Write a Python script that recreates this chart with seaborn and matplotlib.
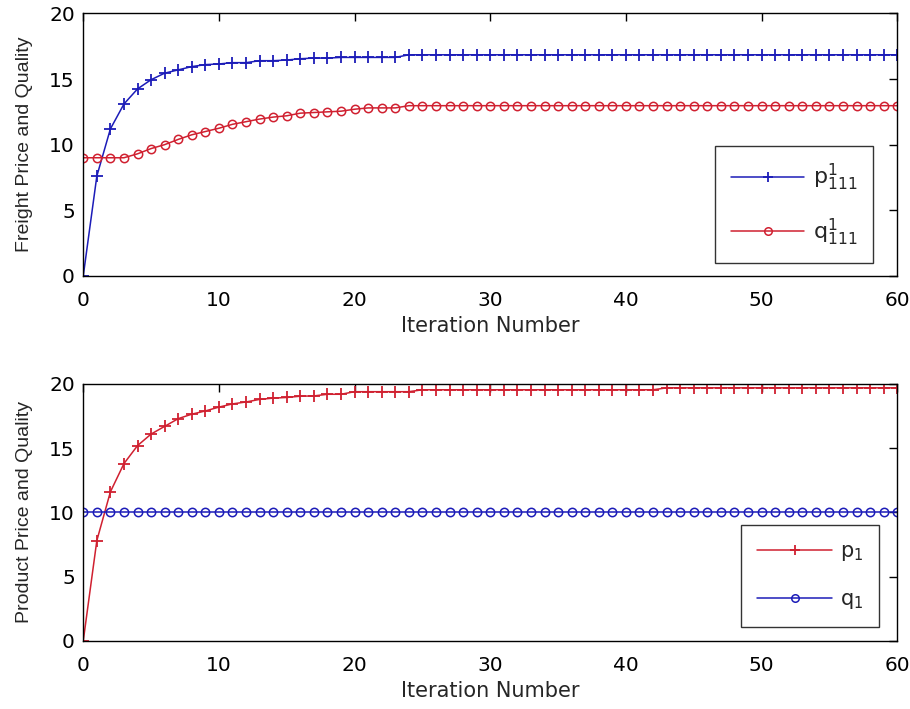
import numpy as np
import pandas as pd
import matplotlib
matplotlib.use("Agg")
import matplotlib.pyplot as plt
import seaborn as sns

# ---------------- data ----------------
iterations = list(range(0, 61))

freight_price = ([0.0, 7.6, 11.2, 13.1, 14.25, 14.95, 15.45, 15.7, 15.95, 16.1,
                  16.15, 16.25, 16.25, 16.4, 16.4, 16.45, 16.55, 16.6, 16.6, 16.65,
                  16.65, 16.65, 16.65, 16.65] + [16.85] * 37)
freight_quality = ([9.0, 9.0, 9.0, 9.0, 9.3, 9.7, 10.0, 10.4, 10.75, 11.0,
                    11.25, 11.55, 11.75, 11.95, 12.1, 12.2, 12.4, 12.45, 12.5, 12.55,
                    12.7, 12.8, 12.8, 12.8] + [12.97] * 37)
product_price = ([0.0, 7.8, 11.6, 13.8, 15.2, 16.1, 16.7, 17.3, 17.65, 17.9,
                  18.2, 18.45, 18.6, 18.8, 18.9, 18.95, 19.05, 19.07, 19.2, 19.2]
                 + [19.4] * 5 + [19.55] * 18 + [19.7] * 18)
product_quality = [10.0] * 61

top_labels = [r'$\mathregular{p^1_{111}}$', r'$\mathregular{q^1_{111}}$']
bottom_labels = [r'$\mathregular{p_1}$', r'$\mathregular{q_1}$']
xticks = [0, 10, 20, 30, 40, 50, 60]
yticks = [0, 5, 10, 15, 20]

BLUE = '#1c1cb8'
RED = '#d02030'

sns.set_style('white')
plt.rcParams['font.family'] = ['DejaVu Sans']
plt.rcParams['mathtext.fontset'] = 'dejavusans'

fig = plt.figure(figsize=(9.1, 7.09), dpi=100)
ax1 = fig.add_axes([0.0915, 0.611, 0.8945, 0.370])
ax2 = fig.add_axes([0.0915, 0.0963, 0.8945, 0.3621])

df_top = pd.DataFrame({'it': iterations, 'p': freight_price, 'q': freight_quality})
df_bot = pd.DataFrame({'it': iterations, 'p': product_price, 'q': product_quality})

def draw(ax, df, c_p, c_q, labels):
    sns.lineplot(data=df, x='it', y='p', ax=ax, color=c_p, marker='+',
                 markersize=8, markeredgewidth=1.3, markeredgecolor=c_p,
                 linewidth=1.1, label=labels[0])
    sns.lineplot(data=df, x='it', y='q', ax=ax, color=c_q, marker='o',
                 markersize=6, markerfacecolor='none', markeredgecolor=c_q,
                 markeredgewidth=1.1, linewidth=1.1, label=labels[1])

draw(ax1, df_top, BLUE, RED, top_labels)
draw(ax2, df_bot, RED, BLUE, bottom_labels)

for ax, ylabel in [(ax1, 'Freight Price and Quality'), (ax2, 'Product Price and Quality')]:
    ax.set_xlim(0, 60)
    ax.set_ylim(0, 20)
    ax.set_xticks(xticks)
    ax.set_yticks(yticks)
    ax.tick_params(direction='in', length=6, width=1, top=True, right=True,
                   labelsize=14.5, colors='black')
    ax.tick_params(axis='x', pad=11)
    ax.tick_params(axis='y', pad=6)
    ax.set_xlabel('Iteration Number', fontsize=15, labelpad=4)
    ax.set_ylabel(ylabel, fontsize=14, labelpad=12, family='Liberation Sans')
    for s in ax.spines.values():
        s.set_color('black')
        s.set_linewidth(1.0)
        s.set_visible(True)

leg1 = ax1.legend(loc='lower right', bbox_to_anchor=(0.9705, 0.048), fontsize=16,
                  frameon=True, fancybox=False, edgecolor='black', handlelength=3.3,
                  labelspacing=1.05, borderpad=0.7, handletextpad=0.4,
                  borderaxespad=0, markerscale=0.9)
leg1.get_frame().set_linewidth(1.0)
leg2 = ax2.legend(loc='lower right', bbox_to_anchor=(0.978, 0.055), fontsize=15,
                  frameon=True, fancybox=False, edgecolor='black', handlelength=3.6,
                  labelspacing=1.25, borderpad=0.75, handletextpad=0.4,
                  borderaxespad=0, markerscale=0.9)
leg2.get_frame().set_linewidth(1.0)

fig.savefig('out.png', dpi=100)
